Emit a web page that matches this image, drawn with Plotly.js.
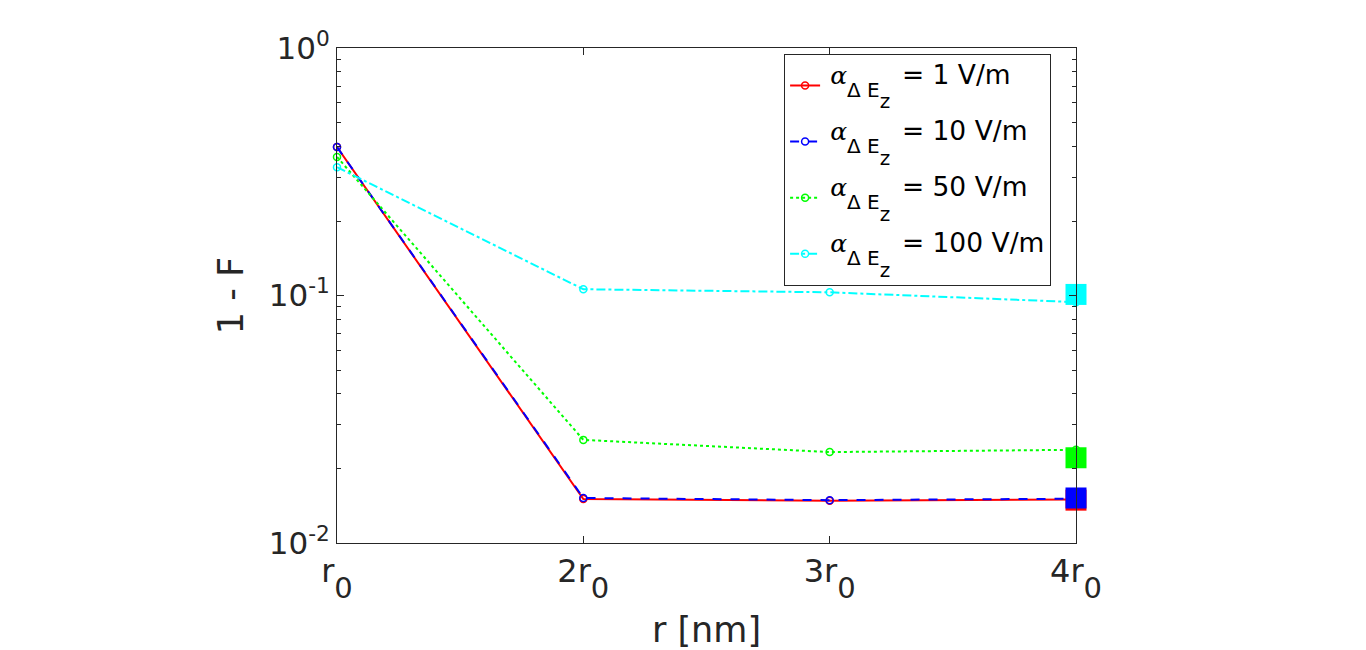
<!DOCTYPE html>
<html>
<head>
<meta charset="utf-8">
<script src="https://cdn.plot.ly/plotly-3.0.1.min.js"></script>
<style>html,body{margin:0;padding:0;background:#fff;}#chart{width:1366px;height:650px;}</style>
</head>
<body>
<div id="chart"></div>
<script>
const r = [1, 2, 3, 4];
const xTickLabels = ['r', '2r', '3r', '4r'];
const yTickVals = [0.01, 0.1, 1];
const yTickLabels = ['10<sup>-2</sup>', '10<sup>-1</sup>', '10<sup>0</sup>'];
const yMinorVals = [0.02,0.03,0.04,0.05,0.06,0.07,0.08,0.09,0.2,0.3,0.4,0.5,0.6,0.7,0.8,0.9];

const alpha1 = [0.398, 0.01506, 0.0148, 0.0150];
const alpha10 = [0.398, 0.0152, 0.0149, 0.0151];
const alpha50 = [0.363, 0.0261, 0.0233, 0.0238];
const alpha100 = [0.330, 0.106, 0.103, 0.094];

const squareX = 4;
const square1 = 0.0149;
const square10 = 0.0152;
const square50 = 0.0221;
const square100 = 0.101;

const names = ['1', '10', '50', '100'];
const colors = ['#ff0000', '#0000ff', '#00ff00', '#00ffff'];
const dashes = ['solid', 'dash', 'dot', 'dashdot'];
const series = [alpha1, alpha10, alpha50, alpha100];
const squares = [square1, square10, square50, square100];

// sub/sup tags with an enlarged (!important) em so the baseline shifts match the TeX layout
function label(v) {
  return '<sup style="font-size:27.35px !important">' +
    '<span style="font-size:16px">\u00a0</span>' +
    '<span style="font-family:\'DejaVu Serif\';font-style:italic;font-size:25px">α</span>' +
    '<sub style="font-size:43.3px !important"><span style="font-size:20px">Δ E</span>' +
    '<sub style="font-size:40px !important"><span style="font-size:20px">z</span></sub></sub>' +
    '<sup style="font-size:36.08px !important">\u200b</sup>' +
    '<span style="font-size:10px">\u00a0</span>' +
    '<span style="font-size:26.5px"> = ' + v + ' V/m</span></sup>';
}
function xlab(t) {
  return t + '<sub style="font-size:53px !important"><span style="font-size:29px">0</span></sub>';
}

const traces = [];
series.forEach((s, i) => {
  traces.push({
    x: r, y: s, type: 'scatter', mode: 'lines+markers',
    name: label(names[i]), legendgroup: 'g' + i,
    line: {color: colors[i], width: 2, dash: dashes[i]},
    marker: {symbol: 'circle-open', size: 7, color: colors[i], line: {width: 1.5}},
    cliponaxis: false
  });
});
squares.forEach((v, i) => {
  traces.push({
    x: [squareX], y: [v], type: 'scatter', mode: 'markers', showlegend: false,
    marker: {symbol: 'square', size: 21, color: colors[i]},
    cliponaxis: false
  });
});

const axisCol = '#262626';
const layout = {
  width: 1366, height: 650,
  margin: {l: 337, r: 290, t: 48, b: 107},
  paper_bgcolor: '#fff', plot_bgcolor: '#fff',
  font: {family: 'DejaVu Sans', color: axisCol},
  showlegend: true,
  legend: {
    x: 0.605, y: 0.988, xanchor: 'left', yanchor: 'top',
    bgcolor: '#fff', bordercolor: '#262626', borderwidth: 1,
    font: {size: 37, color: '#000'},
    tracegroupgap: 5
  },
  xaxis: {
    range: [1, 4], tickvals: r, ticktext: r.map((v, i) => xlab(xTickLabels[i])),
    ticks: 'inside', ticklen: 7, tickcolor: axisCol, tickwidth: 1,
    showline: true, linecolor: axisCol, linewidth: 1, mirror: 'ticks',
    showgrid: false, zeroline: false,
    tickfont: {size: 32, color: axisCol},
    title: {text: 'r [nm]', font: {size: 35, color: axisCol}, standoff: 22}
  },
  yaxis: {
    type: 'log', range: [-2, 0], tickvals: yTickVals, ticktext: yTickLabels,
    ticks: 'inside', ticklen: 7, tickcolor: axisCol, tickwidth: 1,
    minor: {tickvals: yMinorVals, ticks: 'inside', ticklen: 4, tickcolor: axisCol, showgrid: false},
    showline: true, linecolor: axisCol, linewidth: 1, mirror: 'ticks',
    showgrid: false, zeroline: false,
    tickfont: {size: 31, color: axisCol},
    title: {text: '1 - F', font: {size: 35, color: axisCol}, standoff: 14}
  }
};

Plotly.newPlot('chart', traces, layout, {displayModeBar: false, staticPlot: true});
</script>
</body>
</html>
